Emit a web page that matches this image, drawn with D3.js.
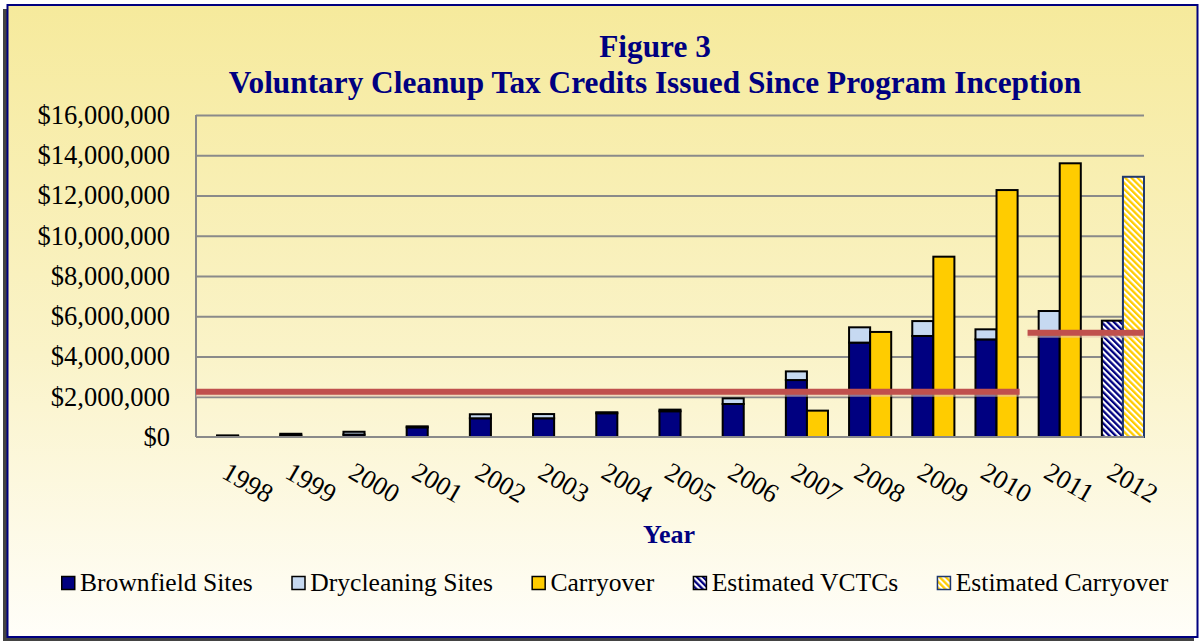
<!DOCTYPE html>
<html>
<head>
<meta charset="utf-8">
<script src="https://cdn.jsdelivr.net/npm/d3@7"></script>
<style>
  html, body { margin: 0; padding: 0; background: #ffffff; }
  svg { display: block; }
</style>
</head>
<body>
<svg id="chart" width="1204" height="643"></svg>
<script>
// ---------------- DATA ----------------
const years = ["1998","1999","2000","2001","2002","2003","2004","2005","2006","2007","2008","2009","2010","2011","2012"];
const brownfield = [50000, 80000, 120000, 480000, 930000, 930000, 1180000, 1280000, 1640000, 2830000, 4690000, 5020000, 4850000, 5070000, 0];
const drycleaning = [30000, 80000, 140000, 50000, 200000, 210000, 50000, 80000, 280000, 430000, 760000, 740000, 500000, 1190000, 0];
const carryover = [0, 0, 0, 0, 0, 0, 0, 0, 0, 1310000, 5220000, 8960000, 12270000, 13600000, 0];
const estimatedVCTCs = [0, 0, 0, 0, 0, 0, 0, 0, 0, 0, 0, 0, 0, 0, 5780000];
const estimatedCarryover = [0, 0, 0, 0, 0, 0, 0, 0, 0, 0, 0, 0, 0, 0, 12930000];
const averageLines = [
  { from: "1998", to: "2010", value: 2250000 },
  { from: "2011", to: "2012", value: 5180000 }
];
const yTicks = [0, 2000000, 4000000, 6000000, 8000000, 10000000, 12000000, 14000000, 16000000];
const titleLines = ["Figure 3", "Voluntary Cleanup Tax Credits Issued Since Program Inception"];
const xAxisTitle = "Year";
const legendLabels = ["Brownfield Sites", "Drycleaning Sites", "Carryover", "Estimated VCTCs", "Estimated Carryover"];

// ---------------- STYLE ----------------
const navy = "#000080";
const C = { brown: "#000080", dry: "#c6d9f1", carry: "#ffcc00", red: "#c0504d", grid: "#8a8a8a" };
const FONT = "'Liberation Serif', 'Times New Roman', serif";

const svg = d3.select("#chart");
const defs = svg.append("defs");

const bg = defs.append("linearGradient").attr("id", "bg").attr("x1", 0).attr("y1", 0).attr("x2", 0).attr("y2", 1);
bg.append("stop").attr("offset", "0%").attr("stop-color", "#f6ea9c");
bg.append("stop").attr("offset", "55%").attr("stop-color", "#faf3c8");
bg.append("stop").attr("offset", "100%").attr("stop-color", "#fffef9");

function stripe(id, c1, c2) {
  const p = defs.append("pattern").attr("id", id).attr("patternUnits", "userSpaceOnUse")
    .attr("width", 4.4).attr("height", 4.4).attr("patternTransform", "rotate(-45)");
  p.append("rect").attr("width", 4.4).attr("height", 4.4).attr("fill", c2);
  p.append("rect").attr("width", 2.3).attr("height", 4.4).attr("fill", c1);
}
stripe("hatchBlue", navy, "#ffffff");
stripe("hatchYellow", C.carry, "#ffffff");

// Frame with shadow
svg.append("rect").attr("x", 3).attr("y", 9).attr("width", 1191).attr("height", 632).attr("fill", "#222").attr("opacity", 0.85);
svg.append("rect").attr("x", 7.5).attr("y", 5).attr("width", 1190).attr("height", 632)
  .attr("fill", "url(#bg)").attr("stroke", navy).attr("stroke-width", 2);

// ---------------- SCALES ----------------
const plot = { left: 196, right: 1144, top: 115, bottom: 437 };
const x = d3.scaleBand().domain(years).range([plot.left, plot.right]).paddingInner(0).paddingOuter(0);
const y = d3.scaleLinear().domain([0, 16000000]).range([plot.bottom, plot.top]);
const bw = x.bandwidth();
const barW = bw / 3;

// Gridlines
const grid = svg.append("g").attr("transform", `translate(${plot.left},0)`)
  .call(d3.axisLeft(y).tickValues(yTicks.filter(d => d > 0)).tickSize(-(plot.right - plot.left)).tickFormat(""));
grid.select(".domain").remove();
grid.selectAll(".tick line").attr("stroke", C.grid).attr("stroke-width", 1.8);

// Y axis labels
const yAxis = svg.append("g").attr("transform", `translate(${plot.left},0)`)
  .call(d3.axisLeft(y).tickValues(yTicks).tickSize(0).tickPadding(26).tickFormat(d => "$" + d3.format(",")(d)));
yAxis.select(".domain").remove();
yAxis.selectAll("text").attr("font-family", FONT).attr("font-size", 26.5).attr("fill", "#000").attr("dy", "0.32em");

// Axis lines
svg.append("line").attr("x1", plot.left).attr("x2", plot.left).attr("y1", plot.top).attr("y2", plot.bottom)
  .attr("stroke", C.grid).attr("stroke-width", 2);

// ---------------- BARS ----------------
const bars = svg.append("g");
years.forEach((yr, i) => {
  const bx = x(yr) + barW;
  const cx = x(yr) + 2 * barW;
  if (brownfield[i] > 0) {
    bars.append("rect").attr("x", bx).attr("y", y(brownfield[i])).attr("width", barW).attr("height", y(0) - y(brownfield[i]))
      .attr("fill", C.brown).attr("stroke", "#000").attr("stroke-width", 2);
  }
  if (drycleaning[i] > 0) {
    const top = brownfield[i] + drycleaning[i];
    bars.append("rect").attr("x", bx).attr("y", y(top)).attr("width", barW).attr("height", y(brownfield[i]) - y(top))
      .attr("fill", C.dry).attr("stroke", "#000").attr("stroke-width", 2);
  }
  if (carryover[i] > 0) {
    bars.append("rect").attr("x", cx).attr("y", y(carryover[i])).attr("width", barW).attr("height", y(0) - y(carryover[i]))
      .attr("fill", C.carry).attr("stroke", "#000").attr("stroke-width", 2);
  }
  if (estimatedVCTCs[i] > 0) {
    bars.append("rect").attr("x", bx).attr("y", y(estimatedVCTCs[i])).attr("width", barW).attr("height", y(0) - y(estimatedVCTCs[i]))
      .attr("fill", "url(#hatchBlue)").attr("stroke", "#000").attr("stroke-width", 2);
  }
  if (estimatedCarryover[i] > 0) {
    bars.append("rect").attr("x", cx).attr("y", y(estimatedCarryover[i])).attr("width", barW).attr("height", y(0) - y(estimatedCarryover[i]))
      .attr("fill", "url(#hatchYellow)").attr("stroke", "#1f3870").attr("stroke-width", 2);
  }
});

// bottom axis line
svg.append("line").attr("x1", plot.left).attr("x2", plot.right).attr("y1", plot.bottom).attr("y2", plot.bottom)
  .attr("stroke", C.grid).attr("stroke-width", 2.2);

// Average lines
averageLines.forEach((a, i) => {
  const x1 = x(a.from) + (i > 0 ? 10 : 0);
  const x2 = x(a.to) + bw + (i > 0 ? 0 : 2);
  svg.append("line").attr("x1", x1).attr("x2", x2).attr("y1", y(a.value) + 1.5).attr("y2", y(a.value) + 1.5)
    .attr("stroke", "#e8c8b0").attr("stroke-width", 7).attr("opacity", 0.6);
  svg.append("line").attr("x1", x1).attr("x2", x2).attr("y1", y(a.value)).attr("y2", y(a.value))
    .attr("stroke", C.red).attr("stroke-width", 6);
});

// X axis labels (rotated)
const xAxis = svg.append("g").attr("transform", `translate(0,${plot.bottom})`)
  .call(d3.axisBottom(x).tickSize(0).tickFormat(d => d));
xAxis.select(".domain").remove();
xAxis.selectAll("text")
  .attr("font-family", FONT).attr("font-size", 26.5).attr("fill", "#000")
  .attr("text-anchor", "start").attr("x", 0).attr("y", 0).attr("dy", 0)
  .attr("transform", "translate(-7,40) rotate(30)");

// Titles
const titleG = svg.append("text").attr("text-anchor", "middle").attr("font-family", FONT)
  .attr("font-weight", "bold").attr("fill", navy);
titleG.append("tspan").attr("x", 655).attr("y", 57).attr("font-size", 31.3).text(titleLines[0]);
titleG.append("tspan").attr("x", 655).attr("y", 93).attr("font-size", 31.3).text(titleLines[1]);

svg.append("text").attr("x", 669).attr("y", 543).attr("text-anchor", "middle").attr("font-family", FONT)
  .attr("font-weight", "bold").attr("font-size", 26).attr("fill", navy).text(xAxisTitle);

// Legend
const legendFills = [C.brown, C.dry, C.carry, "url(#hatchBlue)", "url(#hatchYellow)"];
const legendStrokes = ["#000", "#000", "#000", "#000", "#1f3870"];
let lx = 61;
const legend = svg.append("g");
legendLabels.forEach((lab, i) => {
  legend.append("rect").attr("x", lx + 0.75).attr("y", 576.5).attr("width", 13).attr("height", 13)
    .attr("fill", legendFills[i]).attr("stroke", legendStrokes[i]).attr("stroke-width", 1.5);
  const t = legend.append("text").attr("x", lx + 19).attr("y", 591).attr("font-family", FONT)
    .attr("font-size", 25.6).attr("fill", "#000").text(lab);
  lx = lx + 19 + t.node().getComputedTextLength() + 38.5;
});
</script>
</body>
</html>
